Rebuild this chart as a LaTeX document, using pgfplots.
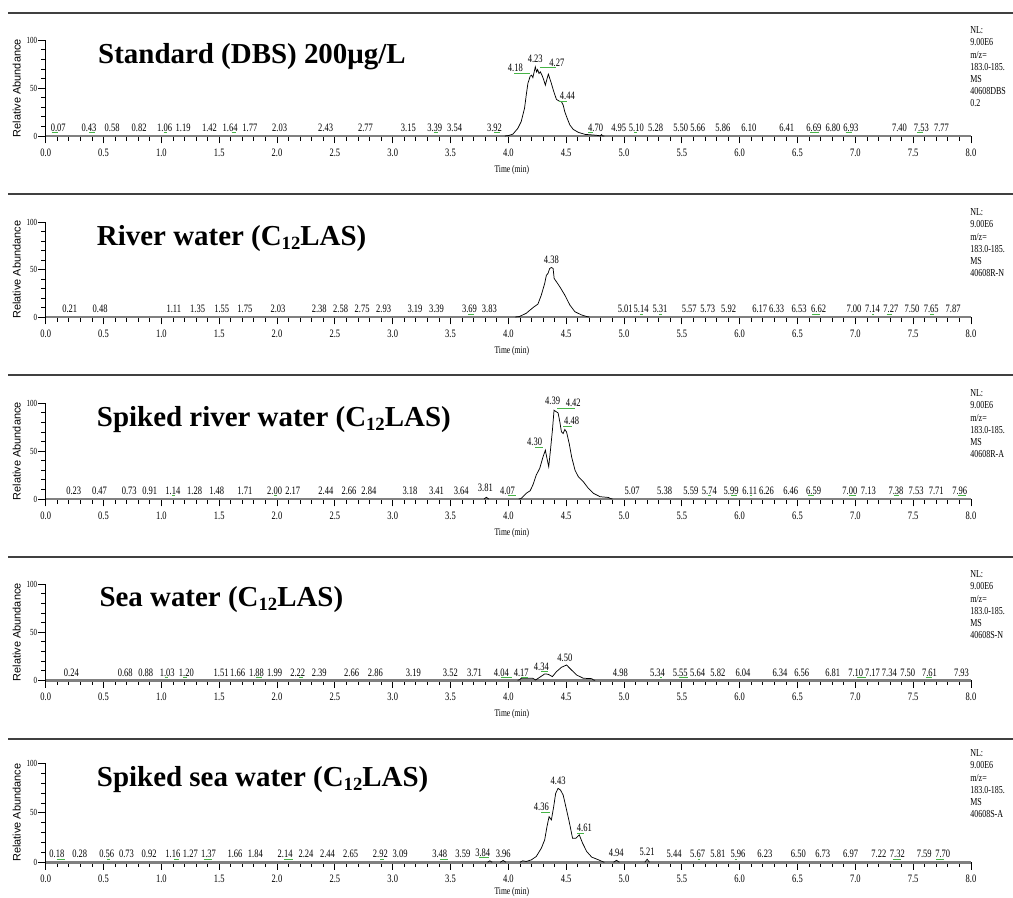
\documentclass[border=0pt]{standalone}
\usepackage{fontspec}
\setmainfont{Liberation Serif}
\newfontfamily\cond[FakeStretch=0.75]{Liberation Serif}
\newfontfamily\sansf{Liberation Sans}
\usepackage{pgfplots}
\pgfplotsset{compat=1.18}
\usepackage{pgfplotstable}
\definecolor{ugreen}{RGB}{70,180,70}
\newcommand\lab{\cond\fontsize{8.5}{9}\selectfont}
\newcommand\nlf{\cond\fontsize{8}{9.1}\selectfont}
\newcommand\ttl{\fontsize{21.7}{24}\selectfont\bfseries}
\newcommand\sub[1]{\raisebox{-0.28ex}{\fontsize{14}{14}\selectfont\bfseries #1}}

% ---------------- traces ----------------
\pgfplotstableread{
t r
3.97 0
4.003 0.5
4.04 2
4.082 8
4.111 15
4.140 29
4.155 43
4.169 55
4.189 62.5
4.201 63.5
4.212 61
4.233 72.2
4.244 67
4.253 69.4
4.265 65.3
4.276 67
4.291 63.5
4.305 59
4.320 53.1
4.335 60.1
4.346 64.6
4.358 60.1
4.372 54.9
4.393 46.2
4.416 38.2
4.439 36.5
4.459 35.8
4.474 32.3
4.488 25.3
4.509 18.4
4.532 11.5
4.561 6.9
4.605 3.8
4.663 1.7
4.736 1
4.780 0.5
4.795 0
4.805 1.5
4.815 0
4.83 0
}\trA
\pgfplotstableread{
t r
4.06 0
4.096 0.5
4.154 3.9
4.212 9.8
4.256 13.7
4.285 23.2
4.314 35.4
4.329 44.2
4.343 46
4.357 51.2
4.372 52.3
4.387 51.2
4.396 40.7
4.416 37.2
4.445 31.9
4.488 23.2
4.532 12.6
4.575 5.6
4.634 2.1
4.677 0.5
4.70 0
}\trB
\pgfplotstableread{
t r
3.79 0
3.81 1.8
3.83 0
nan nan
4.09 0
4.111 0.5
4.154 5.9
4.189 8.7
4.212 14.6
4.241 25
4.271 31.9
4.300 44.1
4.320 51
4.334 42.4
4.349 33.7
4.364 51
4.381 71.9
4.395 92.7
4.416 91
4.430 90
4.445 80.6
4.459 70.1
4.474 68.4
4.488 72.6
4.503 70.1
4.526 58
4.547 44.1
4.576 30.2
4.605 23.3
4.648 18.1
4.692 11.1
4.736 5.9
4.793 2.4
4.866 1.6
4.881 0.5
4.90 0
}\trC
\pgfplotstableread{
t r
4.08 0
4.096 0.5
4.111 2
4.212 2
4.236 0.3
4.271 3.1
4.314 6.6
4.343 6.3
4.381 3.8
4.416 9
4.459 13.5
4.503 15.9
4.546 10.7
4.590 5.5
4.648 2.1
4.721 1.7
4.735 0.3
4.75 0
}\trD
\pgfplotstableread{
t r
3.82 0
3.84 1.5
3.86 0
nan nan
3.93 0
3.955 1.8
3.98 0
nan nan
4.10 0
4.125 1.5
4.154 0.8
4.198 2.4
4.241 5.8
4.285 14.2
4.314 22.6
4.334 36
4.352 46.1
4.372 42.8
4.392 56.2
4.409 69.6
4.430 74.7
4.451 73
4.474 67.9
4.497 56.2
4.526 41.1
4.555 24.3
4.584 24.3
4.613 27.7
4.642 19.3
4.677 10.9
4.721 5.2
4.779 2.5
4.817 0.5
4.83 0
nan nan
4.91 0
4.935 2
4.96 0
nan nan
5.18 0
5.20 3
5.22 0
}\trE

% ---------------- peak labels ----------------
\pgfplotstableread{
t y l
0.108 5 0.07
0.374 5 0.43
0.574 5 0.58
0.808 5 0.82
1.028 5 1.06
1.188 5 1.19
1.416 5 1.42
1.594 5 1.64
1.765 5 1.77
2.022 5 2.03
2.42 5 2.43
2.765 5 2.77
3.136 5 3.15
3.364 5 3.39
3.536 5 3.54
3.88 5 3.92
4.061 67 4.18
4.233 77 4.23
4.42 73 4.27
4.51 38.5 4.44
4.755 5 4.70
4.954 5 4.95
5.107 5 5.10
5.273 5 5.28
5.491 5 5.50
5.637 5 5.66
5.855 5 5.86
6.079 5 6.10
6.407 5 6.41
6.641 5 6.69
6.807 5 6.80
6.961 5 6.93
7.382 5 7.40
7.571 5 7.53
7.745 5 7.77
}\labA
\pgfplotstableread{
t y l
0.208 4.3 0.21
0.471 4.3 0.48
1.108 4.3 1.11
1.314 4.3 1.35
1.522 4.3 1.55
1.722 4.3 1.75
2.008 4.3 2.03
2.365 4.3 2.38
2.550 4.3 2.58
2.736 4.3 2.75
2.922 4.3 2.93
3.193 4.3 3.19
3.379 4.3 3.39
3.664 4.3 3.69
3.836 4.3 3.83
4.372 56.5 4.38
5.011 4.3 5.01
5.148 4.3 5.14
5.311 4.3 5.31
5.564 4.3 5.57
5.724 4.3 5.73
5.904 4.3 5.92
6.174 4.3 6.17
6.319 4.3 6.33
6.514 4.3 6.53
6.683 4.3 6.62
6.988 4.3 7.00
7.148 4.3 7.14
7.307 4.3 7.27
7.490 4.3 7.50
7.656 4.3 7.65
7.845 4.3 7.87
}\labB
\pgfplotstableread{
t y l
0.243 5 0.23
0.465 5 0.47
0.722 5 0.73
0.900 5 0.91
1.099 5 1.14
1.288 5 1.28
1.479 5 1.48
1.722 5 1.71
1.979 5 2.00
2.136 5 2.17
2.422 5 2.44
2.622 5 2.66
2.794 5 2.84
3.150 5 3.18
3.379 5 3.41
3.593 5 3.64
3.801 7.6 3.81
3.993 5 4.07
4.227 55.8 4.30
4.383 98.6 4.39
4.561 96.5 4.42
4.547 77.5 4.48
5.070 5 5.07
5.351 5 5.38
5.578 5 5.59
5.738 5 5.74
5.926 5 5.99
6.087 5 6.11
6.232 5 6.26
6.441 5 6.46
6.639 5 6.59
6.953 5 7.00
7.113 5 7.13
7.352 5 7.38
7.526 5 7.53
7.700 5 7.71
7.903 5 7.96
}\labC
\pgfplotstableread{
t y l
0.222 4 0.24
0.688 4 0.68
0.865 4 0.88
1.051 4 1.03
1.216 4 1.20
1.517 4 1.51
1.659 4 1.66
1.822 4 1.88
1.979 4 1.99
2.179 4 2.22
2.365 4 2.39
2.645 4 2.66
2.850 4 2.86
3.179 4 3.19
3.499 4 3.52
3.707 4 3.71
3.94 4 4.04
4.111 4 4.17
4.285 10.5 4.34
4.489 19.4 4.50
4.968 4 4.98
5.290 4 5.34
5.486 4 5.55
5.636 4 5.64
5.811 4 5.82
6.029 4 6.04
6.349 4 6.34
6.537 4 6.56
6.805 4 6.81
7.003 4 7.10
7.148 4 7.17
7.294 4 7.34
7.453 4 7.50
7.641 4 7.61
7.918 4 7.93
}\labD
\pgfplotstableread{
t y l
0.097 4.5 0.18
0.294 4.5 0.28
0.528 4.5 0.56
0.699 4.5 0.73
0.894 4.5 0.92
1.099 4.5 1.16
1.251 4.5 1.27
1.408 4.5 1.37
1.637 4.5 1.66
1.813 4.5 1.84
2.070 4.5 2.14
2.250 4.5 2.24
2.436 4.5 2.44
2.636 4.5 2.65
2.893 4.5 2.92
3.064 4.5 3.09
3.407 4.5 3.48
3.607 4.5 3.59
3.779 6 3.84
3.956 4.5 3.96
4.285 52 4.36
4.430 79 4.43
4.657 31 4.61
4.933 5.5 4.94
5.200 6.8 5.21
5.433 4.5 5.44
5.636 4.5 5.67
5.811 4.5 5.81
5.985 4.5 5.96
6.218 4.5 6.23
6.508 4.5 6.50
6.718 4.5 6.73
6.959 4.5 6.97
7.203 4.5 7.22
7.363 4.5 7.32
7.596 4.5 7.59
7.756 4.5 7.70
}\labE

% ---------------- green underlines ----------------
\pgfplotstableread{
t y
0.051 3.4
0.108 3.4
nan nan
0.374 3.4
0.422 3.4
nan nan
1.022 3.4
1.051 3.4
nan nan
1.608 3.4
1.642 3.4
nan nan
3.356 3.4
3.393 3.4
nan nan
3.878 3.4
3.927 3.4
nan nan
4.052 65
4.183 65
nan nan
4.270 71.3
4.416 71.3
nan nan
4.439 35.8
4.509 35.8
nan nan
4.692 3.4
4.736 3.4
nan nan
5.090 3.4
5.113 3.4
nan nan
6.610 3.4
6.683 3.4
nan nan
6.916 3.4
6.974 3.4
nan nan
7.531 3.4
7.583 3.4
}\ulA
\pgfplotstableread{
t y
3.651 3
3.699 3
nan nan
5.137 3
5.166 3
nan nan
5.302 3
5.331 3
nan nan
6.624 3
6.697 3
nan nan
7.142 3
7.162 3
nan nan
7.270 3
7.316 3
nan nan
7.648 3
7.677 3
}\ulB
\pgfplotstableread{
t y
1.093 3.3
1.122 3.3
nan nan
1.973 3.3
2.002 3.3
nan nan
3.995 3.3
4.067 3.3
nan nan
4.233 53.6
4.300 53.6
nan nan
4.422 94.3
4.575 94.3
nan nan
4.474 75.5
4.547 75.5
nan nan
5.730 3.3
5.752 3.3
nan nan
5.926 3.3
5.978 3.3
nan nan
6.087 3.3
6.107 3.3
nan nan
6.589 3.3
6.639 3.3
nan nan
6.945 3.3
7.003 3.3
nan nan
7.337 3.3
7.380 3.3
nan nan
7.888 3.3
7.961 3.3
}\ulC
\pgfplotstableread{
t y
1.028 2.6
1.057 2.6
nan nan
1.185 2.6
1.222 2.6
nan nan
1.816 2.6
1.871 2.6
nan nan
2.194 2.6
2.222 2.6
nan nan
3.936 2.6
4.032 2.6
nan nan
4.111 2.6
4.169 2.6
nan nan
4.285 8.7
4.343 8.7
nan nan
5.311 2.6
5.331 2.6
nan nan
5.477 2.6
5.549 2.6
nan nan
7.017 2.6
7.090 2.6
nan nan
7.613 2.6
7.666 2.6
}\ulD
\pgfplotstableread{
t y
0.094 3
0.165 3
nan nan
0.528 3
0.557 3
nan nan
1.108 3
1.151 3
nan nan
1.365 3
1.436 3
nan nan
2.059 3
2.136 3
nan nan
2.893 3
2.922 3
nan nan
3.407 3
3.479 3
nan nan
3.750 4.5
3.830 4.5
nan nan
4.285 50
4.357 50
nan nan
4.596 29.3
4.654 29.3
nan nan
5.636 3
5.659 3
nan nan
5.956 3
5.978 3
nan nan
7.322 3
7.395 3
nan nan
7.700 3
7.764 3
}\ulE

\pgfplotsset{
  chrom/.style={
    scale only axis, width=693.975pt,
    xmin=0, xmax=8, ymin=0, ymax=100,
    axis lines*=left, clip=false,
    xtick={0,0.5,1,1.5,2,2.5,3,3.5,4,4.5,5,5.5,6,6.5,7,7.5,8},
    xticklabels={0.0,0.5,1.0,1.5,2.0,2.5,3.0,3.5,4.0,4.5,5.0,5.5,6.0,6.5,7.0,7.5,8.0},
    minor x tick num=4,
    ytick={0,50,100}, yticklabels={0,50,100}, minor y tick num=4,
    tick align=outside,
    major tick length=5.5pt, minor tick length=3.5pt,
    tick style={black, line width=0.6pt},
    x axis line style={line width=2.2pt, black!50},
    y axis line style={line width=0.6pt, black},
    xticklabel style={font=\lab, inner sep=0pt, yshift=-4pt},
    yticklabel style={font=\cond\fontsize{7}{8}\selectfont, inner sep=0.8pt},
  },
  trace/.style={black, line width=0.55pt, unbounded coords=jump},
  labs/.style={draw=none, mark=none, nodes near coords, point meta=explicit symbolic,
    every node near coord/.append style={font=\lab, anchor=base, inner sep=0pt, black}},
  ul/.style={ugreen, line width=0.7pt, unbounded coords=jump},
}
\newcommand\decor[2]{%
  \node[xshift=-21.75pt, rotate=90, font=\sansf\fontsize{8.2}{9}\selectfont, anchor=center] at (rel axis cs:0,0.5) {Relative Abundance};
  \node[font=\cond\fontsize{7.6}{8}\selectfont, anchor=center] at (axis cs:4.03,0) [yshift=#2] {Time (min)};
  \node[anchor=north west, align=left, inner sep=0pt, font=\nlf] at (rel axis cs:1,1) [xshift=-0.75pt, yshift=10.3pt] {NL:\\9.00E6\\m/z=\\183.0-185.\\MS\\#1};
}

\begin{document}
\begin{tikzpicture}
\useasboundingbox (0,0) rectangle (759.75pt,-673.5pt);
\foreach \yy in {9.5,145.5,281.25,417.75,554.25}{
  \draw[black!75, line width=1.4pt] (6.2pt,-\yy pt) -- (759.75pt,-\yy pt);
}
% Panel 1
\begin{axis}[chrom, height=71.8pt, at={(34.275pt,-102pt)}, anchor=south west]
\addplot[trace] table[x=t,y=r] {\trA};
\addplot[ul] table[x=t,y=y] {\ulA};
\addplot[labs] table[x=t,y=y,meta=l] {\labA};
\node[font=\ttl, anchor=base west, inner sep=0pt] at (axis cs:0.452,75.7) {Standard (DBS) 200μg/L};
\decor{40608DBS\\0.2}{-25.5pt}
\end{axis}
% Panel 2
\begin{axis}[chrom, height=71pt, at={(34.275pt,-237.75pt)}, anchor=south west]
\addplot[trace] table[x=t,y=r] {\trB};
\addplot[ul] table[x=t,y=y] {\ulB};
\addplot[labs] table[x=t,y=y,meta=l] {\labB};
\node[font=\ttl, anchor=base west, inner sep=0pt] at (axis cs:0.441,75) {River water (C\sub{12}LAS)};
\decor{40608R-N}{-25.5pt}
\end{axis}
% Panel 3
\begin{axis}[chrom, height=71.8pt, at={(34.275pt,-374.25pt)}, anchor=south west]
\addplot[trace] table[x=t,y=r] {\trC};
\addplot[ul] table[x=t,y=y] {\ulC};
\addplot[labs] table[x=t,y=y,meta=l] {\labC};
\node[font=\ttl, anchor=base west, inner sep=0pt] at (axis cs:0.441,75.3) {Spiked river water (C\sub{12}LAS)};
\decor{40608R-A}{-25.5pt}
\end{axis}
% Panel 4
\begin{axis}[chrom, height=72pt, at={(34.275pt,-510.2pt)}, anchor=south west]
\addplot[trace] table[x=t,y=r] {\trD};
\addplot[ul] table[x=t,y=y] {\ulD};
\addplot[labs] table[x=t,y=y,meta=l] {\labD};
\node[font=\ttl, anchor=base west, inner sep=0pt] at (axis cs:0.463,76.7) {Sea water (C\sub{12}LAS)};
\decor{40608S-N}{-25.5pt}
\end{axis}
% Panel 5
\begin{axis}[chrom, height=74.2pt, at={(34.275pt,-646.7pt)}, anchor=south west]
\addplot[trace] table[x=t,y=r] {\trE};
\addplot[ul] table[x=t,y=y] {\ulE};
\addplot[labs] table[x=t,y=y,meta=l] {\labE};
\node[font=\ttl, anchor=base west, inner sep=0pt] at (axis cs:0.441,76.4) {Spiked sea water (C\sub{12}LAS)};
\decor{40608S-A}{-22pt}
\end{axis}
\end{tikzpicture}
\end{document}
